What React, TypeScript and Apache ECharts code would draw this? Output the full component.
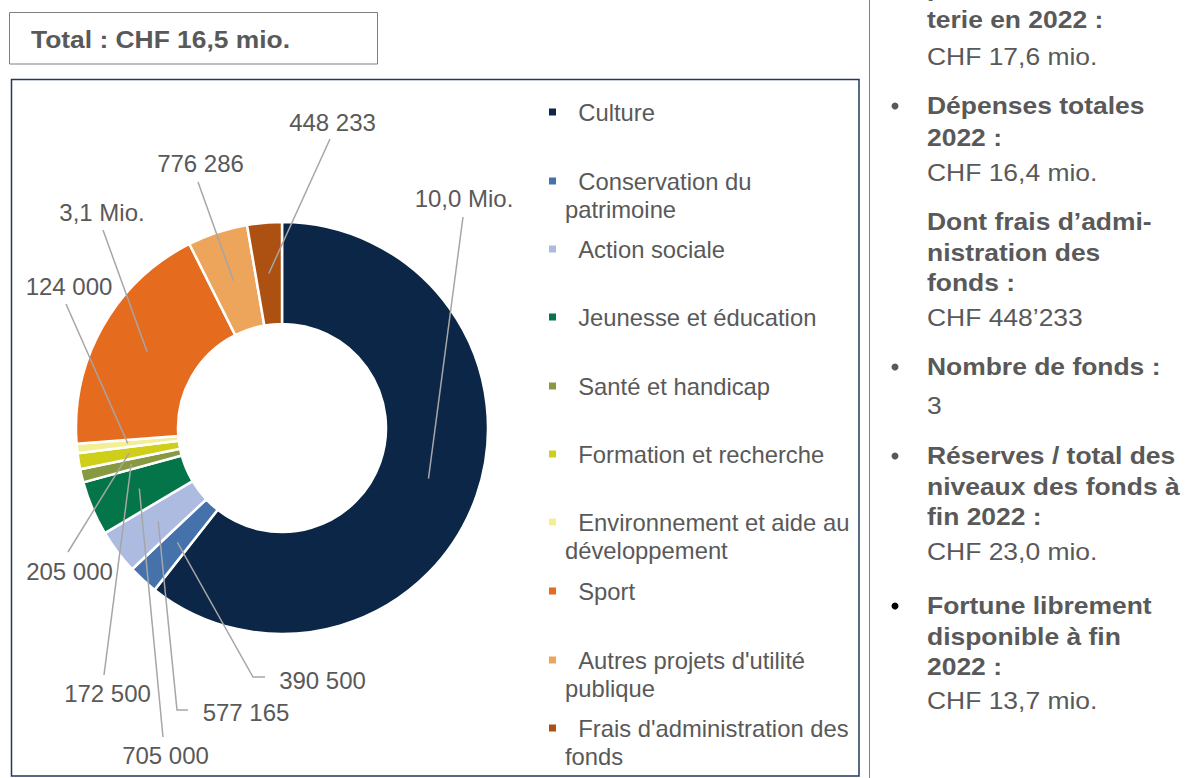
import React, { useEffect, useRef } from "react";
import * as echarts from "echarts";

// ---- data ----
const categories = [
  "Culture",
  "Conservation du patrimoine",
  "Action sociale",
  "Jeunesse et éducation",
  "Santé et handicap",
  "Formation et recherche",
  "Environnement et aide au développement",
  "Sport",
  "Autres projets d'utilité publique",
  "Frais d'administration des fonds",
];
const amounts = [10000000, 390500, 577165, 705000, 172500, 205000, 124000, 3100000, 776286, 448233];

// legend display lines (text as in the reference)
const legendLines = [
  ["Culture"],
  ["Conservation du", "patrimoine"],
  ["Action sociale"],
  ["Jeunesse et éducation"],
  ["Santé et handicap"],
  ["Formation et recherche"],
  ["Environnement et aide au", "développement"],
  ["Sport"],
  ["Autres projets d'utilité", "publique"],
  ["Frais d'administration des", "fonds"],
];

// side notes text
const sideNotes = [
  { text: "parts de la Lo-", bold: true, bullet: false },
  { text: "terie en 2022 :", bold: true, bullet: false },
  { text: "CHF 17,6 mio.", bold: false, bullet: false },
  { text: "Dépenses totales", bold: true, bullet: true },
  { text: "2022 :", bold: true, bullet: false },
  { text: "CHF 16,4 mio.", bold: false, bullet: false },
  { text: "Dont frais d\u2019admi-", bold: true, bullet: false },
  { text: "nistration des", bold: true, bullet: false },
  { text: "fonds :", bold: true, bullet: false },
  { text: "CHF 448\u2019233", bold: false, bullet: false },
  { text: "Nombre de fonds :", bold: true, bullet: true },
  { text: "3", bold: false, bullet: false },
  { text: "Réserves / total des", bold: true, bullet: true },
  { text: "niveaux des fonds à", bold: true, bullet: false },
  { text: "fin 2022 :", bold: true, bullet: false },
  { text: "CHF 23,0 mio.", bold: false, bullet: false },
  { text: "Fortune librement", bold: true, bullet: true },
  { text: "disponible à fin", bold: true, bullet: false },
  { text: "2022 :", bold: true, bullet: false },
  { text: "CHF 13,7 mio.", bold: false, bullet: false },
];

// ---- styles / layout ----
const sliceColors = [
  "#0b2646", "#4672ab", "#adbbe0", "#047548", "#879a42",
  "#cfcf1a", "#f3ef94", "#e56b1f", "#eca55a", "#ad5113",
];
const FONT = '"Liberation Sans", Arial, sans-serif';
const TEXT_GREY = "#595959";
const CENTER = [282, 428];

const labelPlacement = [
  { x: 464, y: 198, line: [[463, 217]] },
  { x: 322.5, y: 680, line: [[253, 677], [265, 677]] },
  { x: 246, y: 712, line: [[177, 710], [188, 710]] },
  { x: 165.5, y: 755, line: [[163, 737]] },
  { x: 107.5, y: 693, line: [[104, 675]] },
  { x: 69.5, y: 571, line: [[68, 552]] },
  { x: 69, y: 286, line: [[66, 304]] },
  { x: 102, y: 212, line: [[103, 230]] },
  { x: 200.5, y: 163, line: [[198, 182]] },
  { x: 332.5, y: 122, line: [[330, 139]] },
];
const legendIconY = [112, 181, 249, 317, 386, 454, 522, 591, 660, 728];
const sideNoteY = [-12, 20, 57, 106, 138, 173, 222, 253, 283, 318, 367, 406, 456, 487, 517, 552, 606, 637, 667, 701];

const fmtValue = (v: number) =>
  v >= 1e6
    ? (v / 1e6).toFixed(1).replace(".", ",") + " Mio."
    : String(v).replace(/\B(?=(\d{3})+(?!\d))/g, " ");

export default function App() {
  const ref = useRef<HTMLDivElement>(null);

  useEffect(() => {
    if (!ref.current) return;
    const chart = echarts.init(ref.current, null, { renderer: "svg" });
    const data = categories.map((name, i) => ({
      name,
      value: amounts[i],
      itemStyle: { color: sliceColors[i] },
    }));
    const total = amounts.reduce((a, b) => a + b, 0);
    const totalText = "Total : CHF " + (total / 1e6).toFixed(1).replace(".", ",") + " mio.";

    const legends = categories.map((name, i) => {
      const lines = legendLines[i];
      const two = lines.length > 1;
      // two-line entries get an empty leading line so the first text line sits beside the icon
      const label = (two ? "\n" : "") + "\u00A0\u00A0" + lines.join("\n");
      return {
        data: [name],
        orient: "vertical",
        left: 549,
        top: legendIconY[i] - (two ? 42 : 14),
        padding: 0,
        itemGap: 0,
        icon: "rect",
        itemWidth: 7,
        itemHeight: 7,
        selectedMode: false,
        itemStyle: { borderWidth: 0 },
        formatter: () => label,
        textStyle: {
          fontFamily: FONT,
          fontSize: 23.8,
          color: TEXT_GREY,
          lineHeight: 28,
          padding: [0, 0, 0, 4],
        },
      };
    });

    const noteChildren: any[] = [];
    const bullets: any[] = [];
    sideNotes.forEach((n, i) => {
      noteChildren.push({
        type: "text",
        x: 0,
        y: sideNoteY[i],
        style: {
          text: n.text,
          fontSize: 23,
          fontFamily: FONT,
          fontWeight: n.bold ? "bold" : "normal",
          fill: TEXT_GREY,
          align: "left",
          verticalAlign: "middle",
          textAlign: "left",
          textVerticalAlign: "middle",
        },
      });
      if (n.bullet) {
        bullets.push({
          type: "circle",
          shape: { cx: 895, cy: sideNoteY[i], r: 3.5 },
          style: { fill: i === 16 ? "#000000" : TEXT_GREY },
        });
      }
    });

    chart.setOption({
      animation: false,
      backgroundColor: "#ffffff",
      textStyle: { fontFamily: FONT },
      legend: legends,
      graphic: [
        {
          type: "rect",
          shape: { x: 9.5, y: 12.5, width: 368, height: 51.5 },
          style: { fill: "none", stroke: "#7f7f7f", lineWidth: 1 },
        },
        {
          type: "text",
          x: 31,
          y: 39,
          scaleX: 1.1,
          style: {
            text: totalText,
            fontSize: 24,
            fontFamily: FONT,
            fontWeight: "bold",
            fill: TEXT_GREY,
            align: "left",
            verticalAlign: "middle",
            textAlign: "left",
            textVerticalAlign: "middle",
          },
        },
        {
          type: "rect",
          shape: { x: 11.5, y: 79.5, width: 847.5, height: 696.5 },
          style: { fill: "none", stroke: "#1f3a5f", lineWidth: 1.5 },
        },
        {
          type: "line",
          shape: { x1: 869.5, y1: 0, x2: 869.5, y2: 778 },
          style: { stroke: "#808080", lineWidth: 1 },
        },
        { type: "group", x: 927, y: 0, scaleX: 1.15, children: noteChildren },
        ...bullets,
      ],
      series: [
        {
          type: "pie",
          name: "Dépenses",
          center: CENTER,
          radius: [104, 206],
          startAngle: 90,
          clockwise: true,
          avoidLabelOverlap: false,
          label: { show: false },
          labelLine: { show: false },
          itemStyle: { borderColor: "#ffffff", borderWidth: 2.5 },
          emphasis: { disabled: true },
          data,
          z: 2,
        },
        {
          type: "pie",
          name: "Labels",
          center: CENTER,
          radius: [0, 155],
          startAngle: 90,
          clockwise: true,
          avoidLabelOverlap: false,
          silent: true,
          z: 3,
          itemStyle: { color: "rgba(0,0,0,0)", borderWidth: 0 },
          emphasis: { disabled: true },
          label: {
            show: true,
            position: "outside",
            fontFamily: FONT,
            fontSize: 24,
            color: TEXT_GREY,
            formatter: (p: any) => fmtValue(p.value),
          },
          labelLine: {
            show: true,
            length: 10,
            length2: 10,
            smooth: false,
            lineStyle: { color: "#a6a6a6", width: 1.5 },
          },
          labelLayout: (params: any) => {
            const p = labelPlacement[params.dataIndex];
            const pts = params.labelLinePoints;
            const res: any = { x: p.x, y: p.y, align: "center", verticalAlign: "middle" };
            if (pts && pts[0]) res.labelLinePoints = [pts[0], ...p.line];
            return res;
          },
          data: categories.map((name, i) => ({ name, value: amounts[i] })),
        },
      ],
    });
    return () => chart.dispose();
  }, []);

  return (
    <div
      ref={ref}
      style={{ position: "absolute", left: 0, top: 0, width: 1201, height: 778 }}
    />
  );
}
